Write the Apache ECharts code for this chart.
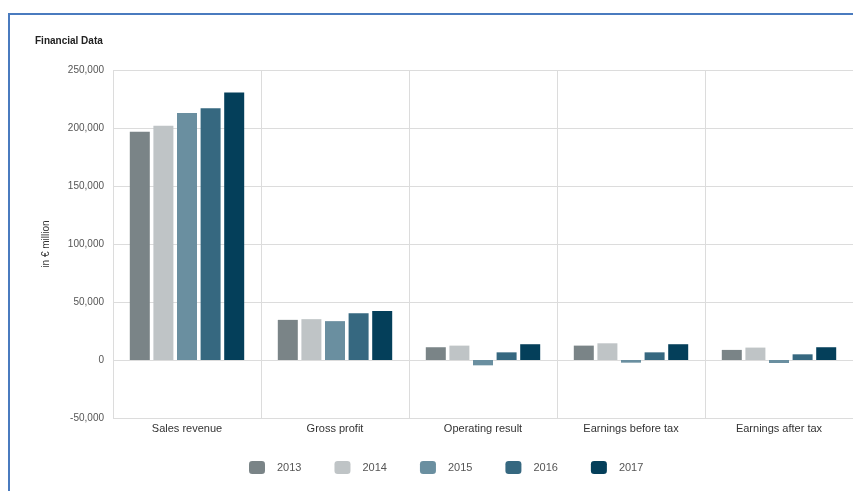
<!DOCTYPE html>
<html lang="en">
<head>
<meta charset="UTF-8">
<title>Financial Data</title>
<script src="https://cdn.jsdelivr.net/npm/echarts@6/dist/echarts.min.js"></script>
<style>
  html, body { margin: 0; padding: 0; background: #fff; }
  #frame { position: absolute; left: 8px; top: 13px; width: 860px; height: 490px;
           border-left: 2px solid #4a7bbf; border-top: 2px solid #4a7bbf; }
  #main { position: absolute; left: 0; top: 0; width: 853px; height: 491px; }
</style>
</head>
<body>
<div id="frame"></div>
<div id="main"></div>
<script>
  var categories = ['Sales revenue', 'Gross profit', 'Operating result', 'Earnings before tax', 'Earnings after tax'];
  var years = ['2013', '2014', '2015', '2016', '2017'];
  var colors = ['#7a8487', '#bfc4c6', '#6a8fa0', '#366880', '#043f5a'];
  var v2013 = [196800, 34600, 11000, 12400, 8700];
  var v2014 = [202000, 35200, 12400, 14400, 10700];
  var v2015 = [213000, 33500, -4600, -2300, -2600];
  var v2016 = [217100, 40400, 6600, 6600, 4900];
  var v2017 = [230600, 42200, 13600, 13600, 11000];
  var values = [v2013, v2014, v2015, v2016, v2017];

  var myChart = echarts.init(document.getElementById('main'));
  var font = 'Liberation Sans, Arial, sans-serif';

  var series = years.map(function (y, i) {
    return {
      name: y,
      type: 'bar',
      data: values[i],
      barWidth: 20,
      barGap: '18%',
      itemStyle: { color: colors[i] }
    };
  });

  myChart.setOption({
    animation: false,
    textStyle: { fontFamily: font },
    title: {
      text: 'Financial Data',
      left: 30, top: 31,
      textStyle: { fontSize: 10, fontWeight: 'bold', color: '#222', fontFamily: 'Liberation Sans Narrow, Liberation Sans, sans-serif' }
    },
    legend: {
      data: years,
      bottom: 12,
      left: 244,
      itemWidth: 16, itemHeight: 13,
      itemGap: 33,
      textStyle: { fontSize: 11, color: '#555', padding: [0, 0, 0, 7] }
    },
    grid: { left: 113, right: 0, top: 70, bottom: 73, containLabel: false },
    xAxis: {
      type: 'category',
      data: categories,
      axisLine: { show: false },
      axisTick: { show: false },
      splitLine: { show: true, interval: 0, lineStyle: { color: '#dcdcdc' } },
      axisLabel: { fontSize: 11, color: '#333', margin: 5, interval: 0 }
    },
    yAxis: {
      type: 'value',
      min: -50000, max: 250000, interval: 50000,
      name: 'in € million',
      nameLocation: 'middle',
      nameGap: 62,
      nameTextStyle: { fontSize: 10, color: '#333' },
      axisLine: { show: false },
      axisTick: { show: false },
      splitLine: { lineStyle: { color: '#dcdcdc' } },
      axisLabel: {
        fontSize: 10, color: '#555', margin: 9,
        formatter: function (v) { return v.toLocaleString('en-US'); }
      }
    },
    series: series
  });
</script>
</body>
</html>
